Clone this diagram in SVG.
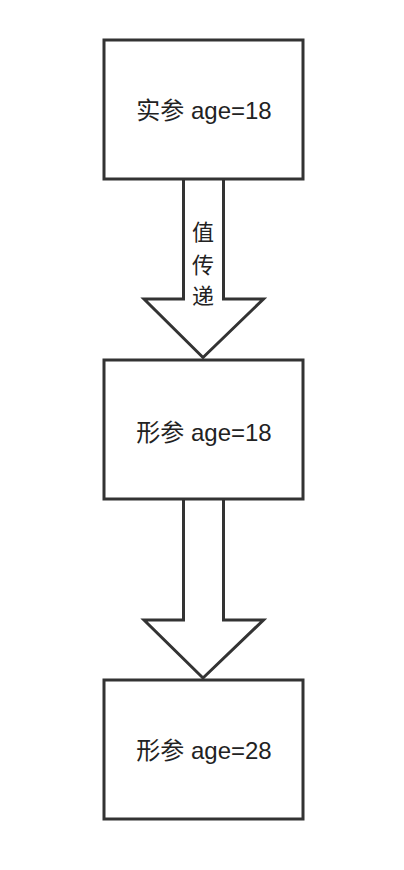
<svg xmlns="http://www.w3.org/2000/svg" width="404" height="870" viewBox="0 0 404 870">
<style>
.box{fill:#fff;stroke:#333;stroke-width:3}
.arr{fill:#fff;stroke:#333;stroke-width:3;stroke-linejoin:miter}
.t{font-family:"Liberation Sans","Noto Sans CJK SC",sans-serif;font-size:24px;fill:#222;text-anchor:middle}
.v{font-family:"Liberation Sans","Noto Sans CJK SC",sans-serif;font-size:22px;fill:#222;text-anchor:middle}
</style>
<rect width="404" height="870" fill="#fff"/>
<g id="connectors">
<path class="arr" d="M183.5 179.5 V299 H144 L203 357.5 L263.5 299 H223.5 V179.5"/>
<path class="arr" d="M183.5 499.5 V620 H144 L203 678 L263.5 620 H223.5 V499.5"/>
<text class="v"><tspan x="203" y="240">值</tspan><tspan x="203" y="273">传</tspan><tspan x="203" y="304">递</tspan></text>
</g>
<g id="node1">
<rect class="box" x="104" y="40" width="199" height="139"/>
<text class="t" x="204" y="119">实参 age=18</text>
</g>
<g id="node2">
<rect class="box" x="104" y="360" width="199" height="139"/>
<text class="t" x="204" y="441">形参 age=18</text>
</g>
<g id="node3">
<rect class="box" x="104" y="680" width="199" height="139"/>
<text class="t" x="204" y="759">形参 age=28</text>
</g>
</svg>
